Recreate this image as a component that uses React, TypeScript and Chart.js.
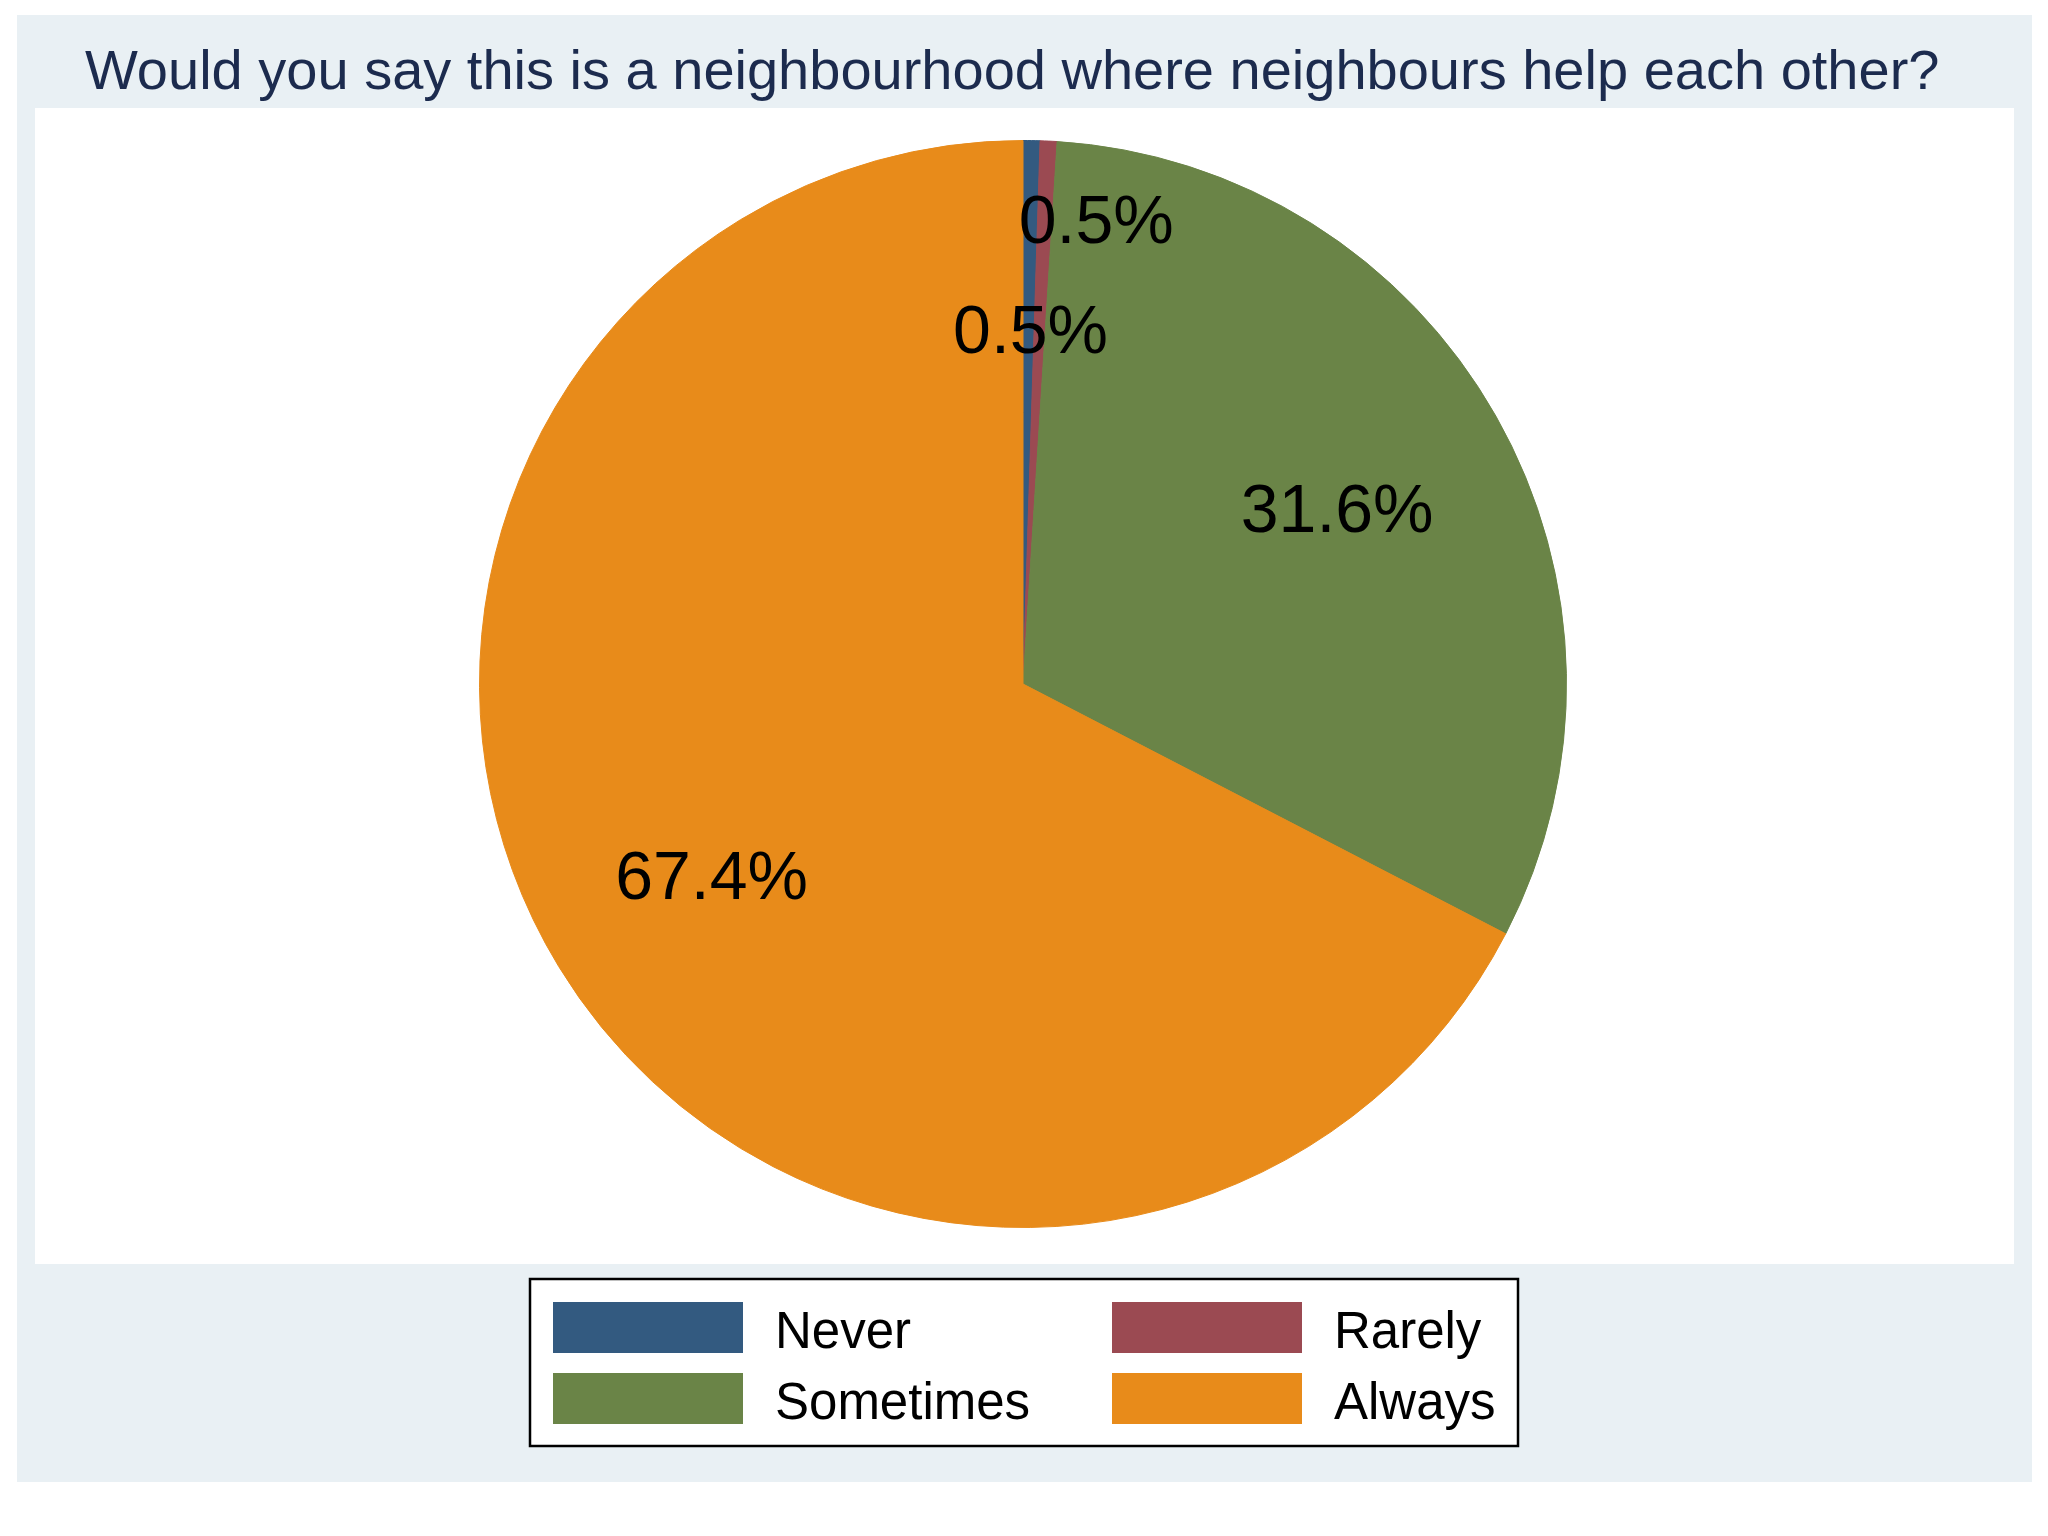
import React, { useEffect, useRef } from "react";
import { Chart, registerables } from "chart.js";

Chart.register(...registerables);

// ---- data ----
const TITLE = "Would you say this is a neighbourhood where neighbours help each other?";
const categories = ["Never", "Rarely", "Sometimes", "Always"];
const percentages = [0.5, 0.5, 31.6, 67.4];
const sliceColors = ["#335a80", "#9b4a52", "#6a8447", "#e88b1a"];

// ---- label placement (fraction of radius, angular nudge in degrees) ----
const labelRadial = [0.655, 0.866, 0.66, 0.675];
const labelAngleShift = [0, 6, 0, 0];

const W = 2048;
const H = 1536;
const FONT = "'Liberation Sans', Arial, Helvetica, sans-serif";

const framePlugin = {
  id: "stataFrame",
  beforeDraw(chart: any) {
    const ctx = chart.ctx as CanvasRenderingContext2D;
    ctx.save();
    ctx.fillStyle = "#ffffff";
    ctx.fillRect(0, 0, W, H);
    ctx.fillStyle = "#e9f0f4";
    ctx.fillRect(17, 15, 2015, 1467);
    ctx.fillStyle = "#ffffff";
    ctx.fillRect(35, 108, 1979, 1156);
    ctx.fillStyle = "#1c2b4e";
    ctx.font = `56px ${FONT}`;
    ctx.textAlign = "left";
    ctx.textBaseline = "alphabetic";
    ctx.fillText(TITLE, 85, 89);
    ctx.restore();
  },
  afterDatasetsDraw(chart: any) {
    const ctx = chart.ctx as CanvasRenderingContext2D;
    const meta = chart.getDatasetMeta(0);
    const values = chart.data.datasets[0].data as number[];
    ctx.save();
    ctx.fillStyle = "#000000";
    ctx.font = `68px ${FONT}`;
    ctx.textAlign = "center";
    ctx.textBaseline = "middle";
    meta.data.forEach((arc: any, i: number) => {
      const p = arc.getProps(["x", "y", "startAngle", "endAngle", "outerRadius"], true);
      const mid = (p.startAngle + p.endAngle) / 2 + (labelAngleShift[i] * Math.PI) / 180;
      const r = p.outerRadius * labelRadial[i];
      const x = p.x + Math.cos(mid) * r;
      const y = p.y + Math.sin(mid) * r;
      ctx.fillText(values[i].toFixed(1) + "%", x + 2, y + 6);
    });
    ctx.restore();
  },
  afterDraw(chart: any) {
    const ctx = chart.ctx as CanvasRenderingContext2D;
    const labels = chart.data.labels as string[];
    const colors = chart.data.datasets[0].backgroundColor as string[];
    ctx.save();
    // legend box
    ctx.fillStyle = "#ffffff";
    ctx.fillRect(530, 1279, 988, 167);
    ctx.strokeStyle = "#000000";
    ctx.lineWidth = 2.5;
    ctx.strokeRect(530, 1279, 988, 167);
    const colX = [553, 1112];
    const rowY = [1302, 1373];
    const swW = 190;
    const swH = 51;
    ctx.font = `51px ${FONT}`;
    ctx.textAlign = "left";
    ctx.textBaseline = "alphabetic";
    labels.forEach((lab, i) => {
      const c = i % 2;
      const r = Math.floor(i / 2);
      ctx.fillStyle = colors[i];
      ctx.fillRect(colX[c], rowY[r], swW, swH);
      ctx.fillStyle = "#000000";
      ctx.fillText(lab, colX[c] + 222, rowY[r] + 46);
    });
    ctx.restore();
  },
};

export default function App() {
  const ref = useRef<HTMLCanvasElement | null>(null);
  useEffect(() => {
    if (!ref.current) return;
    const chart = new Chart(ref.current, {
      type: "pie",
      data: {
        labels: categories,
        datasets: [
          {
            data: percentages,
            backgroundColor: sliceColors,
            borderColor: sliceColors,
            borderWidth: 1,
          },
        ],
      },
      options: {
        animation: false,
        responsive: false,
        events: [],
        layout: { padding: { top: 140, bottom: 308, left: 0, right: 2 } },
        plugins: {
          legend: { display: false },
          tooltip: { enabled: false },
          title: { display: false },
        },
      },
      plugins: [framePlugin],
    });
    return () => chart.destroy();
  }, []);
  return (
    <div style={{ position: "absolute", left: 0, top: 0, width: W, height: H }}>
      <canvas ref={ref} width={W} height={H} style={{ width: W, height: H, display: "block" }} />
    </div>
  );
}
